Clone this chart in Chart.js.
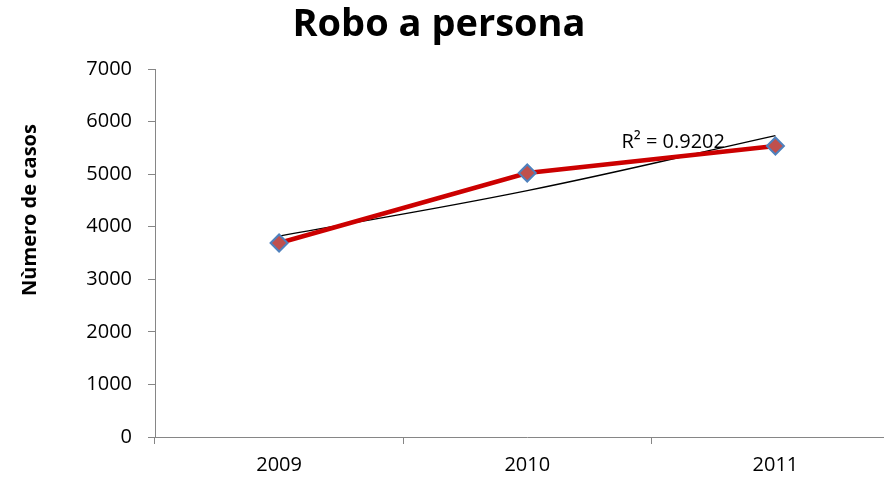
<!DOCTYPE html>
<html>
<head>
<meta charset="utf-8">
<script src="https://cdn.jsdelivr.net/npm/chart.js@4"></script>
<style>
  html, body { margin: 0; padding: 0; background: #fff; overflow: hidden; }
  #wrap { width: 910px; height: 477px; }
</style>
</head>
<body>
<div id="wrap"><canvas id="myChart" width="910" height="477"></canvas></div>
<script>
  const years = ['2009', '2010', '2011'];
  const casos = [3690, 5022, 5535];
  const tendencia = [3822, 4686, 5733];
  const titulo = 'Robo a persona';
  const r2Label = 'R² = 0.9202';
  const yTitle = 'Nùmero de casos';

  const axisGray = '#868686';

  // titulo, titulo del eje y y etiqueta R2 (el lienzo es mas ancho que la ventana)
  const extras = {
    id: 'extras',
    afterDraw(chart) {
      const c = chart.ctx;
      const x = chart.scales.x, y = chart.scales.y;
      c.save();
      c.fillStyle = '#000';
      c.textAlign = 'center';
      c.textBaseline = 'middle';
      c.font = 'bold 38px "Open Sans"';
      c.fillText(titulo, 439, 25);

      c.font = 'bold 20px "Open Sans"';
      c.translate(30, 210);
      c.rotate(-Math.PI / 2);
      c.fillText(yTitle, 0, 0);
      c.restore();

      c.save();
      c.fillStyle = '#000';
      c.font = '20px "Open Sans"';
      c.textAlign = 'left';
      c.textBaseline = 'alphabetic';
      c.fillText(r2Label, x.getPixelForValue(2) - 154, y.getPixelForValue(5730) + 12);
      c.restore();
    }
  };

  const ctx = document.getElementById('myChart');

  new Chart(ctx, {
    type: 'line',
    data: {
      labels: years,
      datasets: [{
        label: 'Robo a persona',
        data: casos,
        borderColor: '#CC0000',
        borderWidth: 4.5,
        pointStyle: 'rectRot',
        pointRadius: 8.5,
        pointBackgroundColor: '#C0504D',
        pointBorderColor: '#4F81BD',
        pointBorderWidth: 2,
        tension: 0,
        order: 1
      }, {
        label: 'Tendencia',
        data: tendencia,
        borderColor: '#000',
        borderWidth: 1.4,
        pointRadius: 0,
        tension: 0.4,
        order: 2
      }]
    },
    options: {
      responsive: false,
      animation: false,
      layout: { padding: { left: 0, right: 3, top: 69, bottom: 0 } },
      plugins: {
        legend: { display: false },
        tooltip: { enabled: false },
        title: { display: false }
      },
      scales: {
        x: {
          offset: true,
          grid: { offset: true, drawOnChartArea: false, tickLength: 7, color: axisGray },
          border: { color: axisGray, width: 1 },
          ticks: { color: '#000', font: { family: 'Open Sans', size: 20 }, padding: 9 },
          afterFit(s) { s.height = 40; }
        },
        y: {
          min: 0,
          max: 7000,
          ticks: {
            stepSize: 1000,
            color: '#000',
            font: { family: 'Open Sans', size: 20 },
            padding: 16,
            callback: (v) => String(v)
          },
          grid: { drawOnChartArea: false, tickLength: 7, color: axisGray },
          border: { color: axisGray, width: 1 },
          afterFit(s) { s.width = 155; }
        }
      }
    },
    plugins: [extras]
  });
</script>
</body>
</html>
